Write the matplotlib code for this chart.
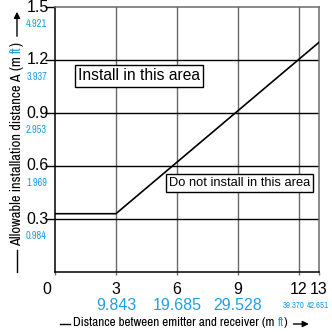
import matplotlib
matplotlib.use("Agg")
import matplotlib.pyplot as plt
from matplotlib.transforms import blended_transform_factory, ScaledTranslation
from matplotlib.patches import FancyArrowPatch
from matplotlib.lines import Line2D
from matplotlib import font_manager as fm
from matplotlib.font_manager import FontProperties

# ---- data ----
line_x = [0, 3, 13]
line_y = [0.33, 0.33, 1.30]
x_ticks = [0, 3, 6, 9, 12, 13]
x_tick_labels = ["0", "3", "6", "9", "12", "13"]
x_ft_ticks = [3, 6, 9, 12, 13]
x_ft_labels = ["9.843", "19.685", "29.528", "39.370", "42.651"]
y_ticks = [0.3, 0.6, 0.9, 1.2, 1.5]
y_tick_labels = ["0.3", "0.6", "0.9", "1.2", "1.5"]
y_ft_labels = ["0.984", "1.969", "2.953", "3.937", "4.921"]
x_grid = [3, 6, 9, 12]
y_grid = [0.3, 0.6, 0.9, 1.2]

BLUE = "#1fa0e4"
W = H = 332
DPI = 100
SANS = ["Liberation Sans", "DejaVu Sans"]

# find a condensed sans face if one is installed
COND = None
_pref = []
for f in fm.fontManager.ttflist:
    nm = f.name
    st = str(f.stretch).lower()
    wt = str(f.weight).lower()
    sty = str(f.style).lower()
    if sty != "normal" or wt not in ("400", "normal", "regular", "book"):
        continue
    if any(k in nm.lower() for k in ("mono", "serif", "cjk", "math")) and "sans" not in nm.lower():
        continue
    if "mono" in nm.lower() or "cjk" in nm.lower():
        continue
    if "narrow" in nm.lower():
        _pref.append((0, f.fname))
    elif "condensed" in nm.lower() and "semi" not in nm.lower() and "extra" not in nm.lower():
        _pref.append((1, f.fname))
    elif st in ("condensed",):
        _pref.append((2, f.fname))
    elif st in ("semi-condensed",):
        _pref.append((3, f.fname))
if _pref:
    _pref.sort()
    COND = _pref[0][1]


def fp(kind, size):
    if kind == "cond" and COND:
        return FontProperties(fname=COND, size=size)
    return FontProperties(family=SANS, size=size)


fig = plt.figure(figsize=(W / DPI, H / DPI), dpi=DPI)
renderer = fig.canvas.get_renderer()


def fit(text, kind, target_px):
    t = fig.text(0, 0, text, fontproperties=fp(kind, 10))
    w = t.get_window_extent(renderer).width
    t.remove()
    return 10 * target_px / w


L, R, T, B = 55, 319, 7, 272
ax = fig.add_axes([L / W, (H - B) / H, (R - L) / W, (B - T) / H])
ax.set_xlim(0, 13)
ax.set_ylim(0, 1.5)

for gx in x_grid:
    ax.axvline(gx, color="#6a6a6a", lw=1.0, zorder=1)
for gy in y_grid:
    ax.axhline(gy, color="black", lw=1.0, zorder=1)

ax.plot(line_x, line_y, color="black", lw=1.2, zorder=3)

for s in ["left", "bottom"]:
    ax.spines[s].set_color("black")
    ax.spines[s].set_linewidth(1.1)
for s in ["right", "top"]:
    ax.spines[s].set_color("#6a6a6a")
    ax.spines[s].set_linewidth(1.1)

ax.set_yticks(y_ticks)
ax.set_yticklabels([])
ax.set_xticks(x_ticks)
ax.set_xticklabels([])
ax.tick_params(axis="y", length=7, width=1.0, direction="out", color="black")
ax.tick_params(axis="x", length=2, width=1.0, direction="out", color="#6a6a6a")


def off(dx, dy):
    return ScaledTranslation(dx / DPI, -dy / DPI, fig.dpi_scale_trans)


ysmall = fit("4.921", "cond", 21)
ty = blended_transform_factory(ax.transAxes, ax.transData)
for v, lab, ft in zip(y_ticks, y_tick_labels, y_ft_labels):
    ax.text(0, v, lab, transform=ty + off(-6, 0), ha="right", va="center",
            fontproperties=fp("sans", 11.5), color="black")
    ax.text(0, v, ft, transform=ty + off(-8, 17), ha="right", va="center",
            fontproperties=fp("cond", ysmall), color=BLUE)

xsmall = fit("39.370", "cond", 22)
tx = blended_transform_factory(ax.transData, ax.transAxes)
for v, lab in zip(x_ticks, x_tick_labels):
    dx = -8 if v == 0 else 0
    ax.text(v, 0, lab, transform=tx + off(dx, 17), ha="center", va="center",
            fontproperties=fp("sans", 11.5), color="black")
for v, ft in zip(x_ft_ticks, x_ft_labels):
    small = v >= 12
    dx = {12: -5, 13: -1}.get(v, 0)
    ax.text(v, 0, ft, transform=tx + off(dx, 33), ha="center", va="center",
            fontproperties=fp("cond", xsmall) if small else fp("sans", 11.5),
            color=BLUE)

box = dict(boxstyle="square,pad=0.22", fc="white", ec="black", lw=1.0)
s1 = fit("Install in this area", "sans", 122)
s2 = fit("Do not install in this area", "sans", 141)
ax.text(0.318, 0.74, "Install in this area", transform=ax.transAxes,
        ha="center", va="center", fontproperties=fp("sans", s1), bbox=box, zorder=5)
ax.text(0.70, 0.336, "Do not install in this area", transform=ax.transAxes,
        ha="center", va="center", fontproperties=fp("sans", s2), bbox=box, zorder=5)


def fpos(x, y):
    return (x / W, 1 - y / H)


def measure(pieces, fs):
    tot = 0
    for text, color, gap in pieces:
        t = fig.text(0, 0, text, fontproperties=fp("cond", fs))
        tot += t.get_window_extent(renderer).width + gap
        t.remove()
    return tot


def pieces_h(pieces, x0, y, fs):
    x = x0
    for text, color, gap in pieces:
        t = fig.text(*fpos(x, y), text, ha="left", va="center", color=color,
                     fontproperties=fp("cond", fs))
        x += t.get_window_extent(renderer).width + gap
    return x


def pieces_v(pieces, x, y0, fs):
    y = y0
    for text, color, gap in pieces:
        t = fig.text(*fpos(x, y), text, ha="center", va="bottom", rotation=90,
                     color=color, fontproperties=fp("cond", fs))
        y -= t.get_window_extent(renderer).height + gap
    return y


# x axis label
xp = [("Distance between emitter and receiver (m", "black", 3),
      ("ft", BLUE, 0.5), (")", "black", 0)]
fx = 10 * 216 / measure(xp, 10)
fig.add_artist(Line2D([60 / W, 70 / W], [1 - 324 / H] * 2, color="black", lw=1.0))
xe = pieces_h(xp, 73, 323, fx)
fig.add_artist(FancyArrowPatch(fpos(xe + 3, 324), fpos(xe + 24, 324),
                               transform=fig.transFigure, arrowstyle="-|>",
                               mutation_scale=9, lw=1.0, color="black"))

# y axis label
yp = [("Allowable installation distance A (m", "black", 3),
      ("ft", BLUE, 0.5), (")", "black", 0)]
fyy = 10 * 204 / measure(yp, 10)
fig.add_artist(Line2D([17 / W] * 2, [1 - 272 / H, 1 - 250 / H], color="black", lw=1.0))
ye = pieces_v(yp, 17, 246, fyy)
fig.add_artist(FancyArrowPatch(fpos(17, ye - 3), fpos(17, 9),
                               transform=fig.transFigure, arrowstyle="-|>",
                               mutation_scale=9, lw=1.0, color="black"))

fig.savefig("out.png", dpi=DPI)
